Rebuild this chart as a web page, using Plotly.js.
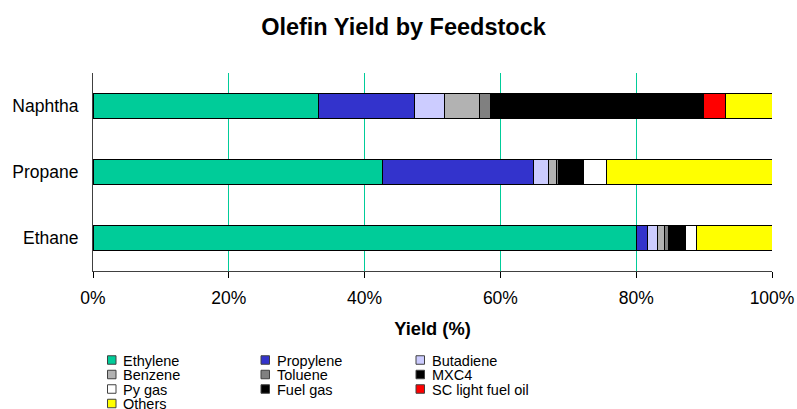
<!DOCTYPE html>
<html>
<head>
<meta charset="utf-8">
<script src="https://cdn.plot.ly/plotly-3.0.1.min.js"></script>
<style>html,body{margin:0;padding:0;background:#fff;}#chart{width:797px;height:409px;}</style>
</head>
<body>
<div id="chart"></div>
<script>
const feedstocks = ['Naphtha', 'Propane', 'Ethane'];
const seriesNames = ['Ethylene', 'Propylene', 'Butadiene', 'Benzene', 'Toluene', 'MXC4', 'Py gas', 'Fuel gas', 'SC light fuel oil', 'Others'];
const ethylene   = [33.2, 42.7, 80.0];
const propylene  = [14.1, 22.2, 1.6];
const butadiene  = [4.4, 2.2, 1.6];
const benzene    = [5.2, 1.2, 0.9];
const toluene    = [1.6, 0.3, 0.6];
const mxc4       = [3.8, 3.7, 2.6];
const pygas      = [0, 3.3, 1.6];
const fuelgas    = [27.6, 0, 0];
const scFuelOil  = [3.3, 0, 0];
const others     = [6.8, 24.4, 11.1];
const xTickVals  = [0, 20, 40, 60, 80, 100];

const seriesValues = [ethylene, propylene, butadiene, benzene, toluene, mxc4, pygas, fuelgas, scFuelOil, others];
const colors = ['#00CC99', '#3333CC', '#CCCCFF', '#B2B2B2', '#808080', '#000000', '#FFFFFF', '#000000', '#FF0000', '#FFFF00'];

const FONT = 'Arial, "Liberation Sans", sans-serif';

const traces = seriesNames.map((name, i) => ({
  type: 'bar',
  orientation: 'h',
  name: name,
  y: feedstocks,
  x: seriesValues[i],
  marker: { color: colors[i], line: { color: '#000000', width: 1 } },
  hoverinfo: 'name+x'
}));

// plot area geometry (pixels)
const W = 797, H = 409;
const mL = 93, mR = 25, mT = 73, mB = 138;
const pw = W - mL - mR, ph = H - mT - mB;
const px2x = px => (px - mL) / pw;
const py2y = py => (H - mB - py) / ph;

// custom compact legend (Excel-like)
const colX = [107.5, 261, 416];
const rowY = [360, 374.5, 389, 403.5];
const sw = 8.5;
const annotations = [];
const shapes = [];
seriesNames.forEach((name, i) => {
  const c = i % 3, r = Math.floor(i / 3);
  const cx = colX[c], cy = rowY[r];
  shapes.push({
    type: 'rect', xref: 'paper', yref: 'paper',
    x0: px2x(cx), x1: px2x(cx + sw), y0: py2y(cy + sw / 2), y1: py2y(cy - sw / 2),
    fillcolor: colors[i], line: { color: '#404040', width: 1 }
  });
  annotations.push({
    xref: 'paper', yref: 'paper', x: px2x(cx + sw + 5), y: py2y(cy + 0.5),
    xanchor: 'left', yanchor: 'middle', showarrow: false,
    text: name, font: { family: FONT, size: 14.5, color: '#000' }
  });
});

const layout = {
  width: W, height: H,
  margin: { l: mL, r: mR, t: mT, b: mB, pad: 0 },
  paper_bgcolor: '#ffffff', plot_bgcolor: '#ffffff',
  title: {
    text: '<b>Olefin Yield by Feedstock</b>',
    font: { family: FONT, size: 23.5, color: '#000' },
    x: 403.5 / W, xanchor: 'center', xref: 'container',
    y: 1 - 27 / H, yanchor: 'middle', yref: 'container'
  },
  barmode: 'stack',
  bargap: 0.62,
  showlegend: false,
  xaxis: {
    range: [0, 100],
    tickvals: xTickVals,
    ticktext: xTickVals.map(v => v + '%'),
    showgrid: true, gridcolor: '#00CC99', gridwidth: 1,
    zeroline: false,
    showline: true, linecolor: '#404040', linewidth: 1,
    ticks: 'outside', ticklen: 6, tickcolor: '#000', tickwidth: 1,
    ticklabelstandoff: 5,
    tickfont: { family: FONT, size: 17.5, color: '#000' },
    title: { text: '<b>Yield (%)</b>', font: { family: FONT, size: 18.3, color: '#000' }, standoff: 15 },
    automargin: false, fixedrange: true
  },
  yaxis: {
    autorange: 'reversed',
    showgrid: false, zeroline: false,
    showline: true, linecolor: '#404040', linewidth: 1,
    ticks: '', ticklabelstandoff: 10,
    tickfont: { family: FONT, size: 17.5, color: '#000' },
    automargin: false, fixedrange: true
  },
  shapes: shapes,
  annotations: annotations
};

Plotly.newPlot('chart', traces, layout, { displayModeBar: false, staticPlot: true });
</script>
</body>
</html>
